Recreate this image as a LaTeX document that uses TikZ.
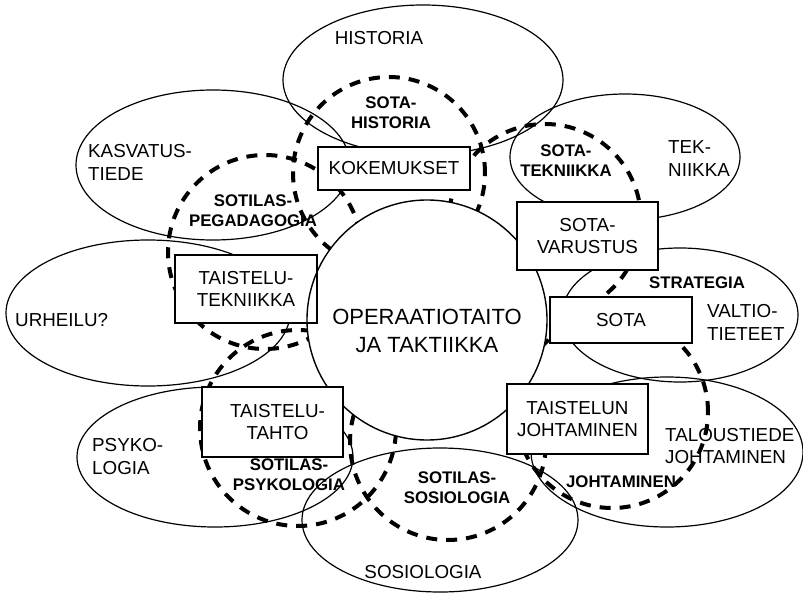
\documentclass[tikz,border=0pt]{standalone}
\usepackage{fontspec}
\setmainfont{Liberation Sans}
\newcommand{\myreg}{\fontsize{18.8}{22.5}\selectfont}
\newcommand{\mybld}{\fontsize{16.8}{20}\selectfont\bfseries}
\newcommand{\mybig}{\fontsize{22}{28}\selectfont}
\begin{document}
\begin{tikzpicture}[x=1pt,y=-1pt,
  field/.style={line width=1.2pt},
  inter/.style={line width=4pt, dash pattern=on 11pt off 9pt},
  box/.style={draw, line width=1.4pt, fill=white, inner sep=0pt, align=center, font=\myreg},
  lbl/.style={inner sep=0pt, align=center, font=\myreg},
  llbl/.style={inner sep=0pt, align=left, anchor=west, font=\myreg},
  blbl/.style={inner sep=0pt, align=center, font=\mybld},
]
\useasboundingbox (0,0) rectangle (803,594);
\fill[white] (0,0) rectangle (803,594);

% disciplines (ellipses)
\draw[field] (423,80)  ellipse [x radius=140pt, y radius=75pt];
\draw[field] (213,165) ellipse [x radius=137pt, y radius=75pt];
\draw[field] (625,157) ellipse [x radius=115pt, y radius=63pt];
\draw[field] (148,313) ellipse [x radius=142pt, y radius=73pt];
\draw[field] (680,315) ellipse [x radius=118pt, y radius=67pt];
\draw[field] (667,452) ellipse [x radius=136pt, y radius=75pt];
\draw[field] (440,520) ellipse [x radius=138pt, y radius=72pt];
\draw[field] (215,457) ellipse [x radius=138pt, y radius=70pt];

% military sciences (dashed circles)
\draw[inter] (389,173) circle [radius=96pt];
\draw[inter] (265,252) circle [radius=97pt];
\draw[inter] (545,220) circle [radius=96pt];
\draw[inter] (298,428) circle [radius=98pt];
\draw[inter] (448,442) circle [radius=98pt];
\draw[inter] (612,412) circle [radius=96pt];

% core
\node[circle, draw, fill=white, line width=1.4pt, minimum size=240pt, inner sep=0pt] (core) at (427,320) {};

% boxes
\node[box, minimum width=152pt, minimum height=43pt] (kok) at (394,168.5) {KOKEMUKSET};
\node[box, minimum width=141pt, minimum height=68pt] (sva) at (587.5,236) {SOTA-\\VARUSTUS};
\node[box, minimum width=142pt, minimum height=68pt] (tt)  at (246,289) {TAISTELU-\\TEKNIIKKA};
\node[box, minimum width=141pt, minimum height=70pt] (tah) at (272.5,422) {\hspace*{10pt}TAISTELU-\\\hspace*{10pt}TAHTO};
\node[box, minimum width=142pt, minimum height=46pt] (sota) at (621,320) {SOTA};
\node[box, minimum width=141pt, minimum height=70pt] (tj)  at (577.5,419) {TAISTELUN\\JOHTAMINEN};

\begin{scope}
  \clip (tt.south west) rectangle (tt.north east);
  \draw[line width=1.4pt] (core.center) circle [radius=120pt];
\end{scope}

% core text
\node[lbl, font=\mybig] (coretxt) at (427,331) {OPERAATIOTAITO\\JA TAKTIIKKA};

% discipline labels
\node[lbl]  (his) at (379,38) {HISTORIA};
\node[llbl] (kas) at (88,162.5) {KASVATUS-\\TIEDE};
\node[llbl] (tek) at (668,158.5) {TEK-\\NIIKKA};
\node[llbl] (urh) at (15,320) {URHEILU?};
\node[llbl] (val) at (707,322.5) {VALTIO-\\TIETEET};
\node[llbl] (psy) at (92,456.5) {PSYKO-\\LOGIA};
\node[llbl] (tal) at (665,446) {TALOUSTIEDE\\JOHTAMINEN};
\node[lbl]  (sos) at (423,572) {SOSIOLOGIA};

% military science labels
\node[blbl] (shis) at (391,113) {SOTA-\\HISTORIA};
\node[blbl] (sped) at (253,211) {SOTILAS-\\PEGADAGOGIA};
\node[blbl] (stek) at (566,161) {SOTA-\\TEKNIIKKA};
\node[blbl] (str)  at (697,283) {STRATEGIA};
\node[blbl] (spsy) at (289,475) {SOTILAS-\\PSYKOLOGIA};
\node[blbl] (ssos) at (457,488) {SOTILAS-\\SOSIOLOGIA};
\node[blbl] (joh)  at (621,482) {JOHTAMINEN};
\end{tikzpicture}
\end{document}
